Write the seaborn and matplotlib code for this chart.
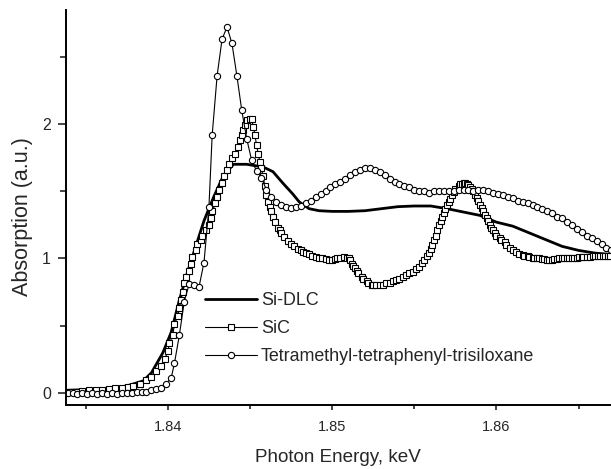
import matplotlib
matplotlib.use('Agg')
import matplotlib.pyplot as plt
from matplotlib.ticker import MultipleLocator, FormatStrFormatter
import seaborn as sns

# Si-DLC (solid line)
dlcEnergy = [1.8338, 1.835, 1.836, 1.837, 1.8377, 1.8385, 1.839, 1.8397, 1.8402, 1.8407,
             1.8412, 1.8417, 1.8422, 1.8428, 1.8434, 1.844, 1.8448, 1.8458, 1.8464, 1.847,
             1.8476, 1.848, 1.8486, 1.8492, 1.850, 1.851, 1.852, 1.853, 1.854, 1.855,
             1.856, 1.857, 1.858, 1.859, 1.860, 1.861, 1.862, 1.863, 1.864, 1.865,
             1.866, 1.8669]
dlcAbs = [0.02, 0.025, 0.03, 0.04, 0.06, 0.09, 0.15, 0.30, 0.45, 0.69,
          0.90, 1.09, 1.28, 1.46, 1.62, 1.70, 1.70, 1.68, 1.645, 1.56,
          1.48, 1.42, 1.37, 1.355, 1.35, 1.35, 1.355, 1.37, 1.385, 1.39,
          1.39, 1.37, 1.345, 1.32, 1.27, 1.24, 1.19, 1.14, 1.09, 1.06,
          1.04, 1.03]

# SiC (squares)
sicEnergy = [1.8340, 1.8344, 1.8348, 1.8352, 1.8356, 1.8360, 1.8364, 1.8368, 1.8372, 1.8376,
             1.8379, 1.8383, 1.8387, 1.8390, 1.8393, 1.8396, 1.8398, 1.8400, 1.8401, 1.8403,
             1.8404, 1.8406, 1.8407, 1.8408, 1.8409, 1.8410, 1.8411, 1.8413, 1.8414, 1.8415,
             1.8417, 1.8418, 1.8420, 1.8421, 1.8423, 1.8425, 1.8426, 1.8427, 1.8429, 1.8430,
             1.8431, 1.8433, 1.8434, 1.8436, 1.8437, 1.8439, 1.8441, 1.8443, 1.8444, 1.8445,
             1.8446, 1.8447, 1.8448, 1.8450, 1.8451, 1.8452, 1.8453, 1.8454, 1.8455, 1.8456,
             1.8457, 1.8458, 1.8459, 1.8460, 1.8461, 1.8462, 1.8463, 1.8464, 1.8465, 1.8467,
             1.8468, 1.8469, 1.8471, 1.8473, 1.8475, 1.8477, 1.8479, 1.8481, 1.8482, 1.8484,
             1.8486, 1.8488, 1.8490, 1.8492, 1.8494, 1.8496, 1.8498, 1.8500, 1.8502, 1.8503,
             1.8505, 1.8507, 1.8509, 1.8510, 1.8511, 1.8512, 1.8513, 1.8514, 1.8515, 1.8516,
             1.8518, 1.8519, 1.8521, 1.8522, 1.8524, 1.8525, 1.8527, 1.8529, 1.8531, 1.8533,
             1.8535, 1.8537, 1.8539, 1.8541, 1.8543, 1.8545, 1.8547, 1.8549, 1.8551, 1.8553,
             1.8555, 1.8556, 1.8558, 1.8559, 1.8560, 1.8561, 1.8562, 1.8563, 1.8564, 1.8565,
             1.8566, 1.8567, 1.8568, 1.8569, 1.8570, 1.8571, 1.8572, 1.8573, 1.8574, 1.8575,
             1.8577, 1.8578, 1.8579, 1.8580, 1.8581, 1.8582, 1.8583, 1.8584, 1.8585, 1.8586,
             1.8587, 1.8588, 1.8589, 1.8590, 1.8591, 1.8592, 1.8593, 1.8594, 1.8595, 1.8596,
             1.8597, 1.8598, 1.8599, 1.8600, 1.8602, 1.8603, 1.8605, 1.8606, 1.8608, 1.8610,
             1.8612, 1.8614, 1.8616, 1.8617, 1.8619, 1.8620, 1.8622, 1.8623, 1.8625, 1.8626,
             1.8628, 1.8629, 1.8631, 1.8632, 1.8634, 1.8635, 1.8637, 1.8638, 1.8640, 1.8641,
             1.8643, 1.8644, 1.8646, 1.8647, 1.8649, 1.8650, 1.8652, 1.8653, 1.8655, 1.8657,
             1.8659, 1.8660, 1.8662, 1.8663, 1.8665, 1.8666, 1.8668, 1.8669]
sicAbs = [0.01, 0.01, 0.015, 0.02, 0.02, 0.025, 0.03, 0.035, 0.04, 0.045,
          0.05, 0.07, 0.10, 0.12, 0.16, 0.20, 0.25, 0.31, 0.37, 0.43,
          0.51, 0.57, 0.63, 0.69, 0.75, 0.82, 0.86, 0.91, 0.96, 1.01,
          1.06, 1.11, 1.14, 1.17, 1.21, 1.25, 1.30, 1.35, 1.41, 1.46,
          1.51, 1.56, 1.61, 1.66, 1.70, 1.745, 1.78, 1.83, 1.88, 1.92,
          1.955, 1.99, 2.03, 2.04, 2.035, 1.98, 1.92, 1.84, 1.78, 1.72,
          1.67, 1.61, 1.54, 1.47, 1.42, 1.385, 1.35, 1.31, 1.27, 1.23,
          1.21, 1.19, 1.16, 1.13, 1.11, 1.09, 1.07, 1.06, 1.05, 1.04,
          1.03, 1.02, 1.01, 1.005, 1.00, 0.995, 0.99, 0.99, 0.995, 1.00,
          1.005, 1.01, 1.005, 1.00, 0.985, 0.96, 0.945, 0.93, 0.91, 0.89,
          0.865, 0.85, 0.83, 0.815, 0.805, 0.80, 0.80, 0.80, 0.805, 0.815,
          0.82, 0.83, 0.84, 0.85, 0.865, 0.88, 0.89, 0.90, 0.92, 0.94,
          0.965, 0.99, 1.02, 1.04, 1.07, 1.10, 1.135, 1.17, 1.21, 1.25,
          1.28, 1.31, 1.34, 1.37, 1.395, 1.42, 1.445, 1.47, 1.495, 1.52,
          1.54, 1.55, 1.555, 1.56, 1.56, 1.555, 1.545, 1.53, 1.515, 1.50,
          1.475, 1.45, 1.425, 1.40, 1.375, 1.35, 1.325, 1.30, 1.275, 1.25,
          1.23, 1.21, 1.19, 1.17, 1.15, 1.14, 1.12, 1.10, 1.08, 1.06,
          1.045, 1.03, 1.025, 1.02, 1.015, 1.01, 1.005, 1.005, 1.00, 1.00,
          0.995, 0.995, 0.99, 0.99, 0.99, 0.995, 0.995, 1.00, 1.00, 1.00,
          1.00, 1.00, 1.005, 1.005, 1.005, 1.01, 1.01, 1.01, 1.01, 1.01,
          1.015, 1.015, 1.02, 1.02, 1.02, 1.02, 1.02, 1.02]

# Tetramethyl-tetraphenyl-trisiloxane (circles)
tttEnergy = [1.8339, 1.8342, 1.8345, 1.8348, 1.8351, 1.8354, 1.8357, 1.8360, 1.8363, 1.8366,
             1.8369, 1.8372, 1.8375, 1.8378, 1.8381, 1.8384, 1.8387, 1.8390, 1.8393, 1.8396,
             1.8399, 1.8402, 1.8404, 1.8407, 1.8410, 1.8413, 1.8416, 1.8419, 1.8422, 1.8425,
             1.8427, 1.8430, 1.8433, 1.8436, 1.8439, 1.8442, 1.8445, 1.8448, 1.8451, 1.8454,
             1.8457, 1.8460, 1.8463, 1.8466, 1.8469, 1.8472, 1.8475, 1.8478, 1.8481, 1.8484,
             1.8487, 1.8490, 1.8493, 1.8496, 1.8499, 1.8502, 1.8505, 1.8508, 1.8511, 1.8514,
             1.8517, 1.8520, 1.8523, 1.8526, 1.8529, 1.8532, 1.8535, 1.8538, 1.8541, 1.8544,
             1.8547, 1.8550, 1.8553, 1.8556, 1.8559, 1.8562, 1.8565, 1.8568, 1.8571, 1.8574,
             1.8577, 1.8580, 1.8583, 1.8586, 1.8589, 1.8592, 1.8595, 1.8598, 1.8601, 1.8604,
             1.8607, 1.8610, 1.8613, 1.8616, 1.8619, 1.8622, 1.8625, 1.8628, 1.8631, 1.8634,
             1.8637, 1.8640, 1.8643, 1.8646, 1.8649, 1.8652, 1.8655, 1.8658, 1.8661, 1.8664,
             1.8667, 1.8670]
tttAbs = [0.00, 0.00, -0.01, 0.00, -0.01, 0.00, -0.01, 0.00, -0.01, 0.00,
          -0.01, 0.00, 0.00, 0.00, 0.01, 0.01, 0.01, 0.02, 0.03, 0.04,
          0.07, 0.11, 0.22, 0.43, 0.68, 0.81, 0.80, 0.79, 0.97, 1.38,
          1.92, 2.36, 2.63, 2.72, 2.60, 2.36, 2.10, 1.89, 1.73, 1.65,
          1.60, 1.51, 1.46, 1.42, 1.40, 1.38, 1.375, 1.38, 1.39, 1.41,
          1.43, 1.455, 1.48, 1.50, 1.53, 1.55, 1.57, 1.59, 1.62, 1.64,
          1.66, 1.67, 1.67, 1.66, 1.64, 1.62, 1.59, 1.57, 1.55, 1.54,
          1.53, 1.51, 1.50, 1.50, 1.49, 1.50, 1.50, 1.50, 1.50, 1.50,
          1.51, 1.51, 1.51, 1.50, 1.51, 1.51, 1.50, 1.49, 1.48, 1.47,
          1.46, 1.45, 1.43, 1.42, 1.41, 1.40, 1.385, 1.37, 1.355, 1.335,
          1.31, 1.30, 1.27, 1.25, 1.22, 1.20, 1.17, 1.155, 1.13, 1.105,
          1.08, 1.06]

sns.set_style('ticks')
plt.rcParams['font.family'] = ['Liberation Sans', 'DejaVu Sans']

fig = plt.figure(figsize=(6.11, 4.69), dpi=100)
ax = fig.add_axes([0.108, 0.1365, 0.890, 0.8425])

sns.lineplot(x=dlcEnergy, y=dlcAbs, ax=ax, color='black', lw=2.0, sort=False, label='Si-DLC')
sns.lineplot(x=sicEnergy, y=sicAbs, ax=ax, color='black', lw=0.8, sort=False,
             marker='s', markersize=4.4, markerfacecolor='white', markeredgecolor='black',
             markeredgewidth=0.8, label='SiC')
sns.lineplot(x=tttEnergy, y=tttAbs, ax=ax, color='black', lw=0.8, sort=False,
             marker='o', markersize=4.5, markerfacecolor='white', markeredgecolor='black',
             markeredgewidth=0.8, label='Tetramethyl-tetraphenyl-trisiloxane')

ax.set_xlim(1.8338, 1.8669)
ax.set_ylim(-0.089, 2.848)
ax.xaxis.set_major_locator(MultipleLocator(0.01))
ax.xaxis.set_minor_locator(MultipleLocator(0.005))
ax.yaxis.set_major_locator(MultipleLocator(1))
ax.yaxis.set_minor_locator(MultipleLocator(0.5))
ax.xaxis.set_major_formatter(FormatStrFormatter('%.2f'))
ax.tick_params(axis='x', which='major', direction='out', length=3.8, width=1.2, pad=7, labelsize=10.5)
ax.tick_params(axis='x', which='minor', direction='out', length=2.8, width=1.2)
ax.tick_params(axis='y', which='major', direction='out', length=5.8, width=1.2, pad=5, labelsize=11.5)
ax.tick_params(axis='y', which='minor', direction='out', length=4.5, width=1.2)
sns.despine(ax=ax)
for s in ['left', 'bottom']:
    ax.spines[s].set_linewidth(1.4)
    ax.spines[s].set_color('black')

ax.set_xlabel('Photon Energy, keV', fontsize=13.6, labelpad=11)
ax.set_ylabel('Absorption (a.u.)', fontsize=15.5)
ax.yaxis.set_label_coords(-0.06, 0.478)

ax.legend(loc='upper left', bbox_to_anchor=(0.255, 0.285), frameon=False, fontsize=12.9,
          handlelength=2.9, handletextpad=0.25, labelspacing=0.6, borderaxespad=0, borderpad=0)

fig.savefig('out.png', dpi=100)
